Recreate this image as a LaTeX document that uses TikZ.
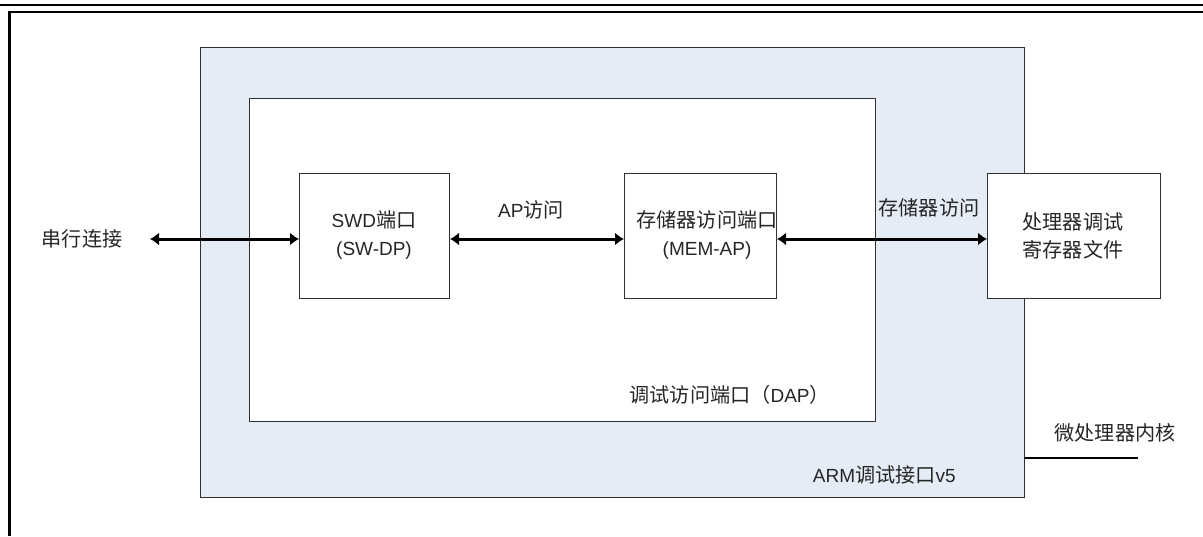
\documentclass[tikz,border=0pt]{standalone}
\usepackage{fontspec}
\setmainfont{Liberation Sans}
\newfontfamily\cjk{Noto Sans CJK SC}[Scale=1.06]
\usetikzlibrary{arrows.meta}
\definecolor{coreblue}{HTML}{E5ECF6}
\definecolor{txt}{HTML}{262626}
\definecolor{edge}{HTML}{303030}
\begin{document}
\begin{tikzpicture}[x=1pt,y=-1pt,
  box/.style={draw=edge,line width=1.3pt,inner sep=0pt,anchor=north west},
  lbl/.style={text=txt,inner sep=0pt,font=\fontsize{19}{28}\selectfont,align=center},
  link/.style={line width=3pt,{Latex[length=9pt,width=13pt]}-{Latex[length=9pt,width=13pt]}}]
\useasboundingbox (0,0) rectangle (1203,536);
% page frame
\draw[line width=2pt] (0,5) -- (1203,5);
\draw[line width=2.6pt] (8,12) -- (1203,12);
\draw[line width=3pt] (9.5,11) -- (9.5,536);
% boxes
\node[box,fill=coreblue,minimum width=824pt,minimum height=450pt] (core) at (200,47) {};
\node[box,fill=white,line width=1pt,minimum width=626pt,minimum height=323pt] (dap) at (249,98) {};
\node[box,fill=white,line width=1pt,minimum width=150pt,minimum height=125pt] (swd) at (299,173) {};
\node[box,fill=white,line width=1pt,minimum width=152pt,minimum height=125pt] (mem) at (624,173) {};
\node[box,fill=white,line width=1pt,minimum width=173pt,minimum height=125pt] (proc) at (987,173) {};
% box texts
\node[lbl] (swdt) at (374,235) {SWD{\cjk 端口}\\(SW-DP)};
\node[lbl] (memt) at (707,235) {{\cjk 存储器访问端口}\\(MEM-AP)};
\node[lbl] (proct) at (1073,236) {{\cjk 处理器调试}\\{\cjk 寄存器文件}};
% labels
\node[lbl] (serial) at (82,239) {\cjk 串行连接};
\node[lbl] (apacc) at (531,210) {AP{\cjk 访问}};
\node[lbl] (memacc) at (929,208) {\cjk 存储器访问};
\node[lbl,anchor=east] (daplbl) at (830,395) {{\cjk 调试访问端口（}DAP{\cjk ）}};
\node[lbl,anchor=east] (armlbl) at (956,475) {ARM{\cjk 调试接口}v5};
\node[lbl] (cpulbl) at (1115,433) {\cjk 微处理器内核};
% connectors
\coordinate (serialend) at (150,239);
\coordinate (cpuline) at (1138,458);
\draw[link] (serialend) -- (serialend -| swd.west);
\draw[link] (swd.east |- serialend) -- (mem.west |- serialend);
\draw[link] (mem.east |- serialend) -- (proc.west |- serialend);
\draw[line width=1.5pt] (cpuline -| core.east) -- (cpuline);
\end{tikzpicture}
\end{document}
